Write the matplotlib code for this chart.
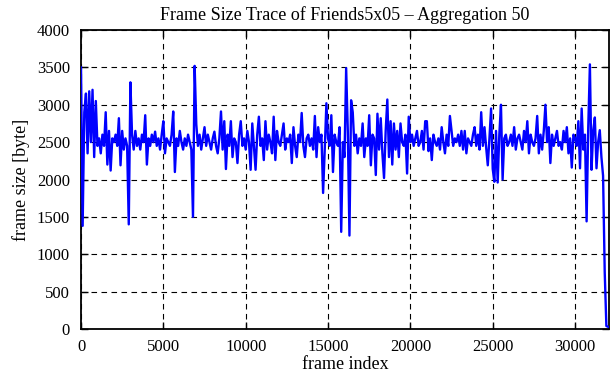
import numpy as np
import matplotlib
matplotlib.use("Agg")
import matplotlib.pyplot as plt

# frame index step (aggregated samples shown every 100 frames)
step = 100
sizes = [
    3500, 1380, 2900, 3150, 2350, 3180, 2500, 3200, 2300, 3050,
    2450, 2550, 2350, 2600, 2450, 2900, 2200, 2650, 2120, 2550,
    2500, 2600, 2450, 2820, 2190, 2650, 2400, 2550, 2450, 1400,
    3300, 2600, 2400, 2650, 2450, 2550, 2400, 2600, 2500, 2860,
    2200, 2550, 2450, 2600, 2500, 2640, 2450, 2550, 2400, 2600,
    2780, 2350, 2550, 2500, 2450, 2600, 2910, 2100, 2550, 2450,
    2650, 2500, 2400, 2550, 2450, 2600, 2500, 2400, 1500, 3520,
    2740, 2450, 2600, 2400, 2550, 2700, 2450, 2600, 2500, 2400,
    2550, 2640, 2450, 2350, 2550, 2910, 2400, 2780, 2140, 2600,
    2450, 2780, 2300, 2550, 2500, 2220, 2600, 2780, 2450, 2550,
    2400, 2650, 2500, 2130, 2750, 2450, 2130, 2600, 2840, 2450,
    2550, 2260, 2780, 2400, 2600, 2500, 2350, 2840, 2260, 2650,
    2500, 2450, 2600, 2750, 2400, 2550, 2500, 2600, 2220, 2700,
    2450, 2300, 2600, 2500, 2890, 2450, 2300, 2550, 2600, 2450,
    2550, 2400, 2850, 2300, 2700, 2500, 2600, 1820, 2400, 3020,
    2550, 2450, 2860, 2100, 2600, 2500, 2450, 2700, 1300, 2500,
    2300, 3490, 2650, 1250, 3060, 2900, 2450, 2600, 2350, 2550,
    2450, 2750, 2300, 2550, 2450, 2860, 2190, 2600, 2550, 2060,
    2880, 2400, 2820, 2350, 2020, 2650, 3070, 2300, 2780, 2200,
    2750, 2400, 2650, 2300, 2750, 2500, 2450, 2600, 2080, 2840,
    2500, 2600, 2450, 2550, 2650, 2450, 2500, 2650, 2400, 2780,
    2780, 2380, 2550, 2260, 2600, 2500, 2450, 2550, 2400, 2700,
    2500, 2350, 2600, 2450, 2850, 2650, 2450, 2550, 2500, 2600,
    2450, 2650, 2400, 2650, 2350, 2550, 2500, 2450, 2600, 2700,
    2450, 2600, 2400, 2900, 2450, 2700, 2430, 2190, 2550, 2950,
    2140, 1970, 2650, 1960, 2600, 3000, 2000, 2550, 2600, 2450,
    2500, 2600, 2450, 2700, 2400, 2550, 2600, 2500, 2400, 2650,
    2500, 2780, 2350, 2600, 2500, 2450, 2550, 2850, 2350, 2600,
    2400, 2650, 3000, 2500, 2700, 2220, 2600, 2450, 2550, 2650,
    2450, 2500, 2400, 2650, 2500, 2700, 2350, 2550, 2160, 2600,
    2550, 2450, 2780, 2150, 2950, 2400, 2600, 1440, 2700, 3540,
    2130, 2650, 2830, 2150, 2500, 2660, 2300, 2050, 760, 40,
    30,
]
frames = np.arange(len(sizes)) * step

x_ticks = [0, 5000, 10000, 15000, 20000, 25000, 30000]
y_ticks = [0, 500, 1000, 1500, 2000, 2500, 3000, 3500, 4000]

plt.rcParams['font.family'] = ['Liberation Serif', 'DejaVu Serif']

fig = plt.figure(figsize=(6.11, 3.80), dpi=100)
ax = fig.add_axes([81/611, 1 - 329/380, (609 - 81)/611, (329 - 30)/380])

ax.plot(frames, sizes, color='#0000ff', lw=1.7, zorder=3)

ax.set_xlim(0, 32060)
ax.set_ylim(0, 4000)
ax.set_xticks(x_ticks)
ax.set_yticks(y_ticks)
ax.grid(True, color='black', linestyle=(0, (5, 4)), linewidth=0.8)
ax.tick_params(direction='in', length=5, width=1, top=True, right=True,
               labelsize=12, colors='black')
ax.tick_params(axis='x', pad=7)
ax.tick_params(axis='y', pad=8)
for s in ax.spines.values():
    s.set_linewidth(1.3)

ax.set_title('Frame Size Trace of Friends5x05 \u2013 Aggregation 50', fontsize=13, pad=7)
ax.set_xlabel('frame index', fontsize=13, labelpad=1)
ax.set_ylabel('frame size [byte]', fontsize=13, labelpad=5)

fig.savefig('out.png', dpi=100)
